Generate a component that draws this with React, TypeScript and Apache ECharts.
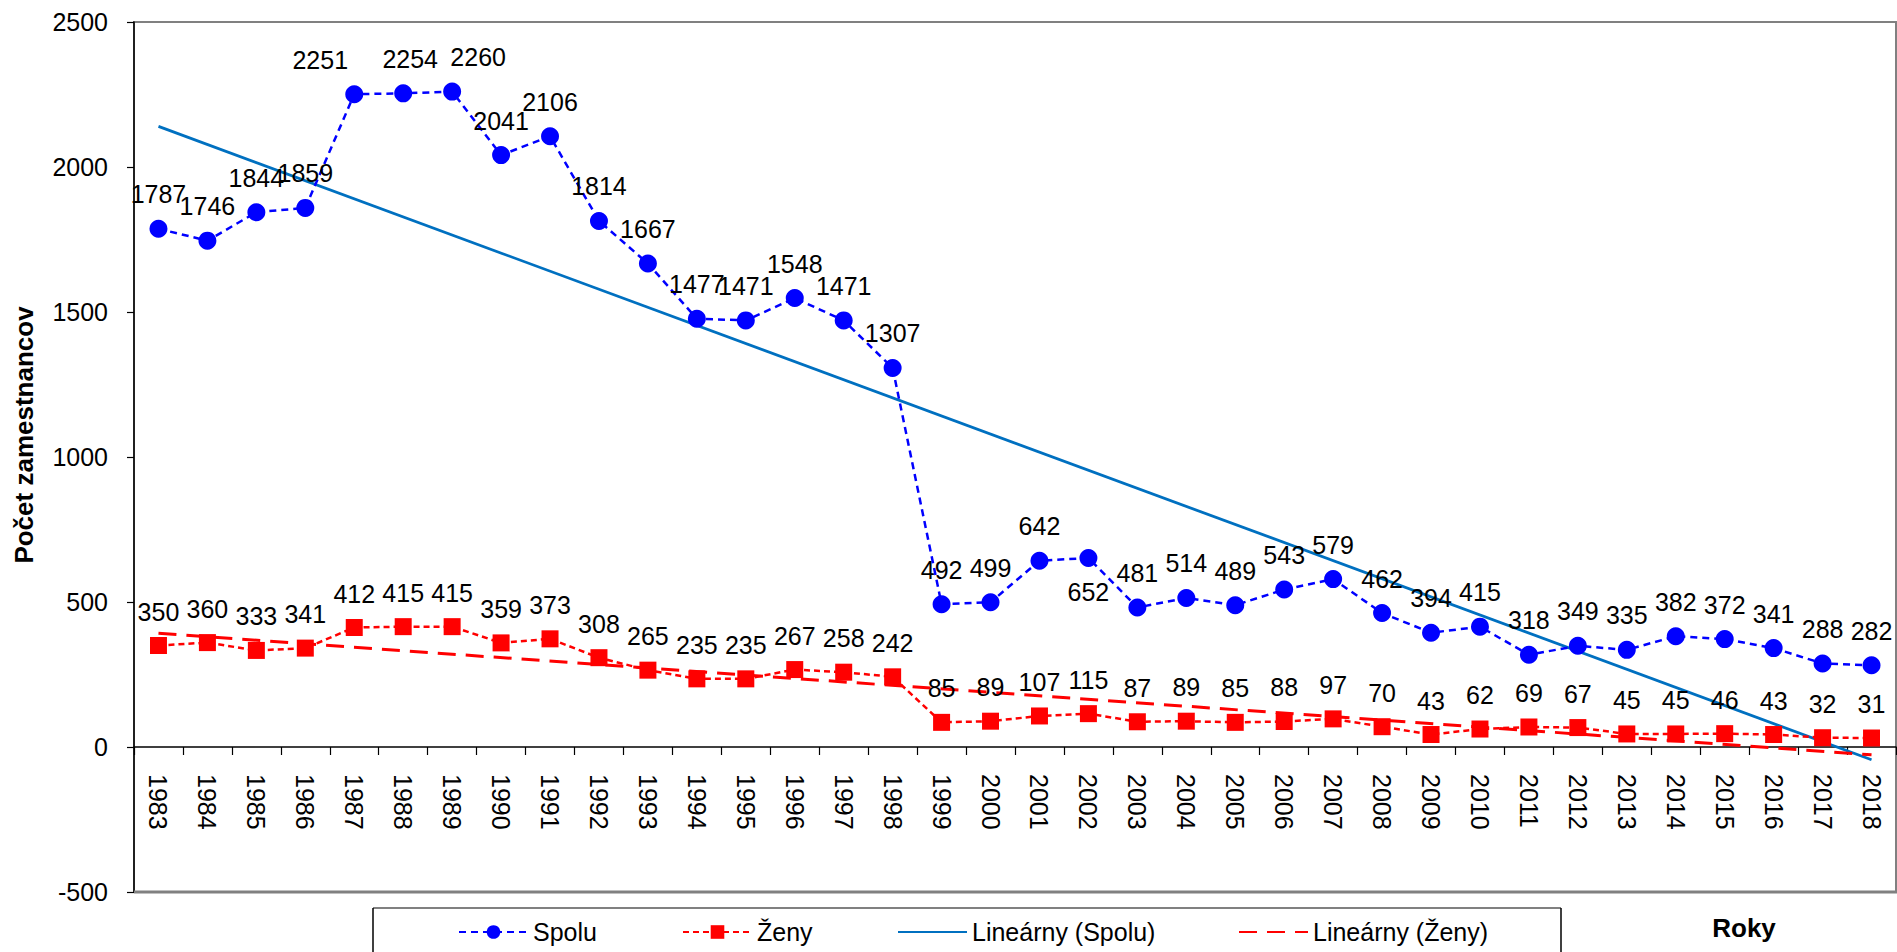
import React, { useEffect, useRef } from "react";
import * as echarts from "echarts";

const years = [
  "1983", "1984", "1985", "1986", "1987", "1988", "1989", "1990", "1991", "1992",
  "1993", "1994", "1995", "1996", "1997", "1998", "1999", "2000", "2001", "2002",
  "2003", "2004", "2005", "2006", "2007", "2008", "2009", "2010", "2011", "2012",
  "2013", "2014", "2015", "2016", "2017", "2018",
];

const spolu = [
  1787, 1746, 1844, 1859, 2251, 2254, 2260, 2041, 2106, 1814,
  1667, 1477, 1471, 1548, 1471, 1307, 492, 499, 642, 652,
  481, 514, 489, 543, 579, 462, 394, 415, 318, 349,
  335, 382, 372, 341, 288, 282,
];

const zeny = [
  350, 360, 333, 341, 412, 415, 415, 359, 373, 308,
  265, 235, 235, 267, 258, 242, 85, 89, 107, 115,
  87, 89, 85, 88, 97, 70, 43, 62, 69, 67,
  45, 45, 46, 43, 32, 31,
];

// Trend line end values (at first and last year)
const trendSpoluEnds = [2140, -44];
const trendZenyEnds = [392, -27];

const yTicks = { min: -500, max: 2500, interval: 500 };

const seriesNames = ["Spolu", "Ženy", "Lineárny (Spolu)", "Lineárny (Ženy)"];

// Label placement tweaks (style only)
const spoluLabelShiftX: Record<string, number> = { "1987": -34, "1988": 7, "1989": 26 };
const spoluLabelBelow = ["2002"];

const FONT = "'Liberation Sans', Arial, Helvetica, sans-serif";

// layout (pixels)
const GRID_LEFT = 134;
const GRID_TOP = 22;
const GRID_BOTTOM_PX = 892;
const CHART_H = 952;

export default function App() {
  const ref = useRef<HTMLDivElement>(null);

  useEffect(() => {
    if (!ref.current) return;
    const chart = echarts.init(ref.current, undefined, { renderer: "svg" });

    const labelBase = {
      show: true,
      position: "top",
      distance: 13,
      fontSize: 25,
      color: "#000",
      fontFamily: FONT,
    };

    const spoluData = spolu.map((v, i) => {
      const y = years[i];
      const item: any = { value: v };
      const lbl: any = {};
      if (spoluLabelShiftX[y] !== undefined) lbl.offset = [spoluLabelShiftX[y], 0];
      if (spoluLabelBelow.includes(y)) lbl.position = "bottom";
      if (Object.keys(lbl).length) item.label = lbl;
      return item;
    });

    const first = years[0];
    const last = years[years.length - 1];

    // pixel offset of the zero line above the plot bottom
    const plotH = GRID_BOTTOM_PX - GRID_TOP;
    const zeroOffset = ((0 - yTicks.min) / (yTicks.max - yTicks.min)) * plotH;

    const legendCommon = {
      orient: "horizontal",
      top: 918,
      padding: 0,
      itemWidth: 69,
      itemHeight: 17,
      textStyle: { fontSize: 25, color: "#000", fontFamily: FONT, lineHeight: 28 },
      selectedMode: false,
    };

    const option: any = {
      animation: false,
      backgroundColor: "#fff",
      grid: {
        left: GRID_LEFT,
        right: 1,
        top: GRID_TOP,
        bottom: CHART_H - GRID_BOTTOM_PX,
        show: true,
        borderColor: "#808080",
        borderWidth: 2,
        containLabel: false,
      },
      legend: [
        { ...legendCommon, left: 458, data: [seriesNames[0]] },
        { ...legendCommon, left: 682, data: [seriesNames[1]] },
        { ...legendCommon, left: 897, data: [{ name: seriesNames[2], itemStyle: { opacity: 0 } }] },
        { ...legendCommon, left: 1238, data: [{ name: seriesNames[3], itemStyle: { opacity: 0 } }] },
      ],
      xAxis: {
        type: "category",
        data: years,
        boundaryGap: true,
        offset: -zeroOffset,
        axisLine: { onZero: false, lineStyle: { color: "#000", width: 1.5 } },
        axisTick: { show: true, length: 8, lineStyle: { color: "#000", width: 1.2 } },
        axisLabel: {
          rotate: -90,
          margin: 27,
          fontSize: 25,
          color: "#000",
          fontFamily: FONT,
          interval: 0,
        },
        splitLine: { show: false },
      },
      yAxis: {
        type: "value",
        min: yTicks.min,
        max: yTicks.max,
        interval: yTicks.interval,
        axisLine: { show: true, lineStyle: { color: "#000", width: 1.5 } },
        axisTick: { show: true, length: 7, lineStyle: { color: "#000", width: 1.2 } },
        axisLabel: {
          fontSize: 25,
          color: "#000",
          fontFamily: FONT,
          margin: 26,
          formatter: (v: number) => String(v),
        },
        splitLine: { show: false },
      },
      series: [
        {
          name: seriesNames[2],
          type: "line",
          data: [
            [first, trendSpoluEnds[0]],
            [last, trendSpoluEnds[1]],
          ],
          symbol: "none",
          lineStyle: { color: "#0070C0", width: 2.8, type: "solid" },
          itemStyle: { color: "#0070C0" },
          z: 2,
        },
        {
          name: seriesNames[3],
          type: "line",
          data: [
            [first, trendZenyEnds[0]],
            [last, trendZenyEnds[1]],
          ],
          symbol: "none",
          lineStyle: { color: "#FF0000", width: 3, type: [18, 10] },
          itemStyle: { color: "#FF0000" },
          z: 2,
        },
        {
          name: seriesNames[0],
          type: "line",
          data: spoluData,
          symbol: "circle",
          symbolSize: 18,
          itemStyle: { color: "#0000FF" },
          lineStyle: { color: "#0000FF", width: 2.5, type: [7, 5] },
          label: labelBase,
          z: 3,
        },
        {
          name: seriesNames[1],
          type: "line",
          data: zeny,
          symbol: "rect",
          symbolSize: 17,
          itemStyle: { color: "#FF0000" },
          lineStyle: { color: "#FF0000", width: 2.5, type: [6, 4] },
          label: labelBase,
          z: 3,
        },
      ],
      graphic: [
        {
          type: "text",
          x: 24,
          y: 435,
          rotation: Math.PI / 2,
          style: {
            text: "Počet zamestnancov",
            fontSize: 26,
            fontWeight: "bold",
            fontFamily: FONT,
            fill: "#000",
            align: "center",
            verticalAlign: "middle",
          },
        },
        {
          type: "text",
          x: 1744,
          y: 928,
          style: {
            text: "Roky",
            fontSize: 26,
            fontWeight: "bold",
            fontFamily: FONT,
            fill: "#000",
            align: "center",
            verticalAlign: "middle",
          },
        },
        {
          type: "line",
          shape: { x1: GRID_LEFT, y1: GRID_BOTTOM_PX, x2: 1897, y2: GRID_BOTTOM_PX },
          style: { stroke: "#808080", lineWidth: 3 },
          z: 1,
        },
        {
          type: "line",
          shape: { x1: 373, y1: 908, x2: 1561, y2: 908 },
          style: { stroke: "#808080", lineWidth: 2 },
        },
        {
          type: "line",
          shape: { x1: 373, y1: 908, x2: 373, y2: 960 },
          style: { stroke: "#000", lineWidth: 1.5 },
        },
        {
          type: "line",
          shape: { x1: 1561, y1: 908, x2: 1561, y2: 960 },
          style: { stroke: "#000", lineWidth: 1.5 },
        },
      ],
    };

    chart.setOption(option);
    return () => chart.dispose();
  }, []);

  return (
    <div
      ref={ref}
      style={{ position: "absolute", left: 0, top: 0, width: 1897, height: 952, background: "#fff" }}
    />
  );
}
